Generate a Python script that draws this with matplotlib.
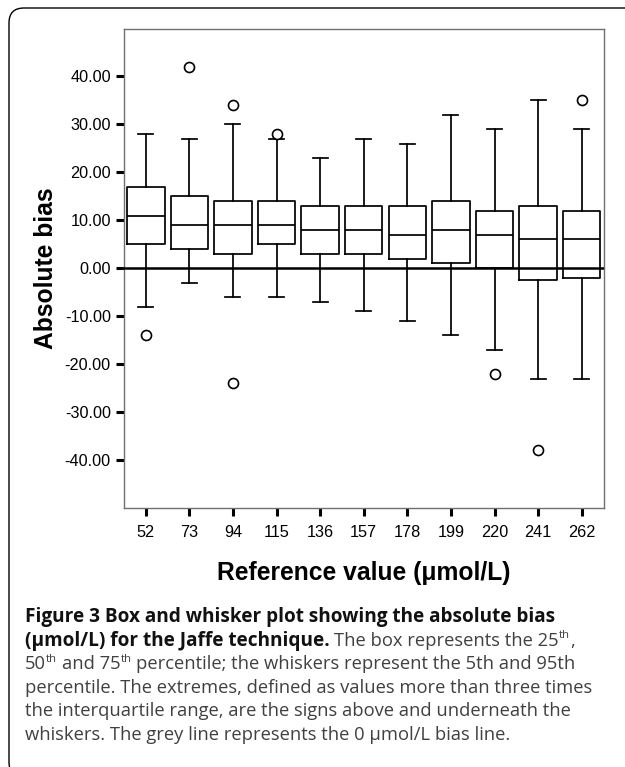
import matplotlib
matplotlib.use('Agg')
import matplotlib.pyplot as plt
from matplotlib.patches import FancyBboxPatch
from matplotlib.ticker import FormatStrFormatter

# ---- data ----
categories = ['52', '73', '94', '115', '136', '157', '178', '199', '220', '241', '262']
whislo = [-8, -3, -6, -6, -7, -9, -11, -14, -17, -23, -23]
q1 = [5, 4, 3, 5, 3, 3, 2, 1, 0, -2.4, -2]
med = [11, 9, 9, 9, 8, 8, 7, 8, 7, 6, 6]
q3 = [17, 15, 14, 14, 13, 13, 13, 14, 12, 13, 12]
whishi = [28, 27, 30, 27, 23, 27, 26, 32, 29, 35, 29]
fliers = [[-14], [42], [34, -24], [28], [], [], [], [], [-22], [-38], [35]]
yticks = [-40, -30, -20, -10, 0, 10, 20, 30, 40]

W, H = 625, 767
fig = plt.figure(figsize=(W / 100, H / 100), dpi=100)
fig.patch.set_facecolor('white')

ax = fig.add_axes([124 / W, 1 - 508 / H, (603.5 - 124) / W, (508 - 28.5) / H])

stats = []
for i, c in enumerate(categories):
    stats.append(dict(label=c, whislo=whislo[i], q1=q1[i], med=med[i],
                      q3=q3[i], whishi=whishi[i], fliers=fliers[i]))

lw = 1.25
ax.bxp(stats, positions=list(range(len(categories))), widths=0.86,
       capwidths=0.345, showfliers=True,
       boxprops=dict(color='black', lw=lw),
       whiskerprops=dict(color='black', lw=lw),
       capprops=dict(color='black', lw=lw),
       medianprops=dict(color='black', lw=lw),
       flierprops=dict(marker='o', markerfacecolor='white',
                       markeredgecolor='black', markersize=7.2,
                       markeredgewidth=1.2, linestyle='none'))
ax.axhline(0, color='black', lw=1.8, zorder=5)

ax.set_xlim(-0.5, 10.5)
ax.set_ylim(-50, 50)
ax.set_xticks(list(range(len(categories))))
ax.set_xticklabels(categories)
ax.set_yticks(yticks)
ax.yaxis.set_major_formatter(FormatStrFormatter('%.2f'))
ax.tick_params(axis='both', direction='out', length=6, width=2.2,
               color='black', labelsize=11.7, labelcolor='black')
ax.tick_params(axis='y', pad=3.5)
ax.tick_params(axis='x', pad=6)
for lab in ax.get_xticklabels() + ax.get_yticklabels():
    lab.set_family('Liberation Sans')
for s in ax.spines.values():
    s.set_color('#707070')
    s.set_linewidth(1.0)

fig.text(363.5 / W, 1 - 573 / H, 'Reference value (\u03bcmol/L)',
         family='Liberation Sans', weight='bold', fontsize=17.7,
         ha='center', va='center')
fig.text(46.5 / W, 1 - 268 / H, 'Absolute bias', family='Liberation Sans',
         weight='bold', fontsize=17.7, rotation=90, ha='center', va='center')

# frame (runs off the right and bottom edges)
frame = FancyBboxPatch((0.09, -0.10), 7.0, 7.69,
                       boxstyle='round,pad=0,rounding_size=0.15',
                       transform=fig.dpi_scale_trans, fill=False,
                       ec='black', lw=1.0, clip_on=False)
fig.add_artist(frame)

# ---- caption ----
renderer = fig.canvas.get_renderer()
cap_family = 'Open Sans'
reg_col = '#404040'
bold_col = '#111111'


def measure(s, sz, weight):
    t = fig.text(0, 0, s, fontsize=sz, weight=weight, family=cap_family)
    w = t.get_window_extent(renderer).width
    t.remove()
    return w


base = 12.0
size = base * 566.0 / measure('percentile. The extremes, defined as values more than three times', base, 'normal')
bsize = base * 530.0 / measure('Figure 3 Box and whisker plot showing the absolute bias', base, 'bold')

space_w = {}


def spw(sz, wt):
    key = (round(sz, 3), wt)
    if key not in space_w:
        space_w[key] = measure('n n', sz, wt) - measure('nn', sz, wt)
    return space_w[key]


def draw_line(runs, ybase, x0=25.0):
    x = x0
    for text, wt, col, sup in runs:
        full = bsize if wt == 'bold' else size
        sz = full * 0.62 if sup else full
        lead = len(text) - len(text.lstrip(' '))
        trail = len(text) - len(text.rstrip(' '))
        core = text.strip(' ')
        x += lead * spw(sz, wt)
        y = ybase - (0.40 * full * 100 / 72 if sup else 0)
        t = fig.text(x / W, 1 - y / H, core, fontsize=sz, weight=wt,
                     color=col, family=cap_family, ha='left', va='baseline')
        x += t.get_window_extent(renderer).width
        x += trail * spw(sz, wt)


B, R = 'bold', 'normal'
lines = [
    [('Figure 3 Box and whisker plot showing the absolute bias', B, bold_col, False)],
    [('(\u00b5mol/L) for the Jaffe technique.', B, bold_col, False),
     (' The box represents the 25', R, reg_col, False),
     ('th', R, reg_col, True), (',', R, reg_col, False)],
    [('50', R, reg_col, False), ('th', R, reg_col, True),
     (' and 75', R, reg_col, False), ('th', R, reg_col, True),
     (' percentile; the whiskers represent the 5th and 95th', R, reg_col, False)],
    [('percentile. The extremes, defined as values more than three times', R, reg_col, False)],
    [('the interquartile range, are the signs above and underneath the', R, reg_col, False)],
    [('whiskers. The grey line represents the 0 \u00b5mol/L bias line.', R, reg_col, False)],
]
y0 = 622.0
dy = 23.6
for i, ln in enumerate(lines):
    draw_line(ln, y0 + i * dy)

fig.savefig('out.png', dpi=100, facecolor='white')
